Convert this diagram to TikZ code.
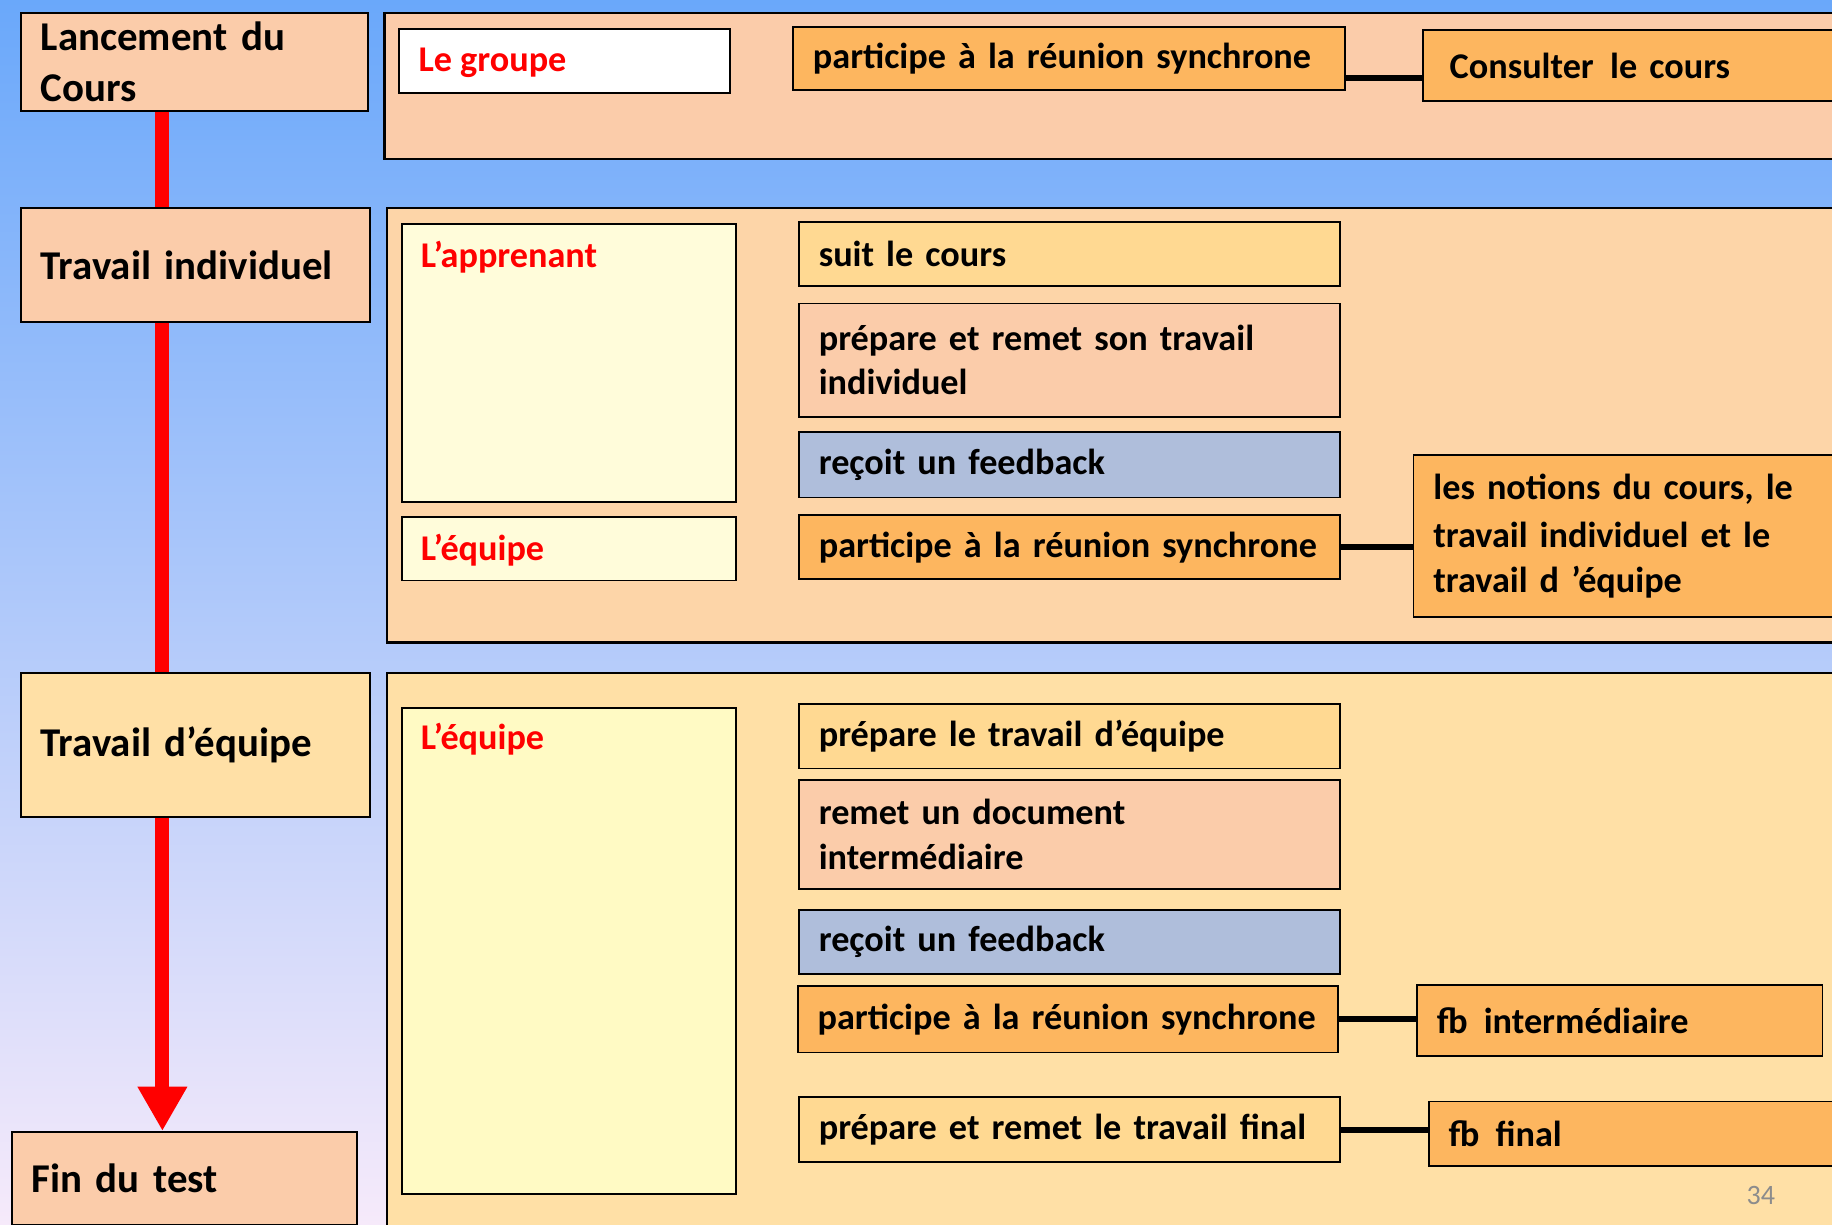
\documentclass[tikz,border=0pt]{standalone}
\usepackage{fontspec}
\setmainfont{Carlito}
\usetikzlibrary{arrows.meta,calc}

\definecolor{bgtop}{RGB}{106,168,250}
\definecolor{bgbot}{RGB}{246,234,250}
\definecolor{peach}{RGB}{251,204,170}
\definecolor{peachB}{RGB}{253,213,168}
\definecolor{cream}{RGB}{255,224,166}
\definecolor{amber}{RGB}{253,182,95}
\definecolor{sand}{RGB}{255,217,146}
\definecolor{slate}{RGB}{175,190,219}
\definecolor{paleA}{RGB}{255,252,218}
\definecolor{paleB}{RGB}{255,250,196}
\definecolor{redtone}{RGB}{255,0,0}

\tikzset{
  panel/.style={draw=black, line width=2pt, anchor=north west, inner sep=0pt},
  stagebox/.style={draw=black, line width=1.8pt, anchor=north west, inner sep=0pt,
    align=left, font=\bfseries\fontsize{35}{44}\selectfont},
  actbox/.style={draw=black, line width=1.6pt, anchor=north west, inner sep=0pt,
    align=left, font=\bfseries\fontsize{31}{38}\selectfont},
  actor/.style={anchor=north west, inner sep=0pt, text=redtone,
    font=\bfseries\fontsize{31}{38}\selectfont},
  conn/.style={line width=5pt, black},
  spine/.style={line width=12pt, redtone,
    -{Triangle[width=40pt,length=38pt]}},
}

% box of given width/height with text inset from the left edge
\newcommand{\bx}[8]{% style, name, x, y, w, h, fill, text
  \pgfmathsetmacro{\tw}{#5-34}%
  \node[#1, fill=#7, minimum width=#5pt, minimum height=#6pt,
        text width=\tw pt] (#2) at (#3,#4) {#8};}
\newcommand{\gap}{\hspace{14pt}}

\begin{document}
\begin{tikzpicture}[x=1pt,y=-1pt]
\useasboundingbox (0,0) rectangle (1568,1048);
\clip (0,0) rectangle (1568,1048);
\shade[top color=bgtop, bottom color=bgbot] (0,0) rectangle (1568,1048);

% right-hand panels
\node[panel, fill=peach,  minimum width=1260pt, minimum height=125pt] (pA) at (328,10) {};
\node[panel, fill=peachB, minimum width=1260pt, minimum height=372pt] (pB) at (330,177) {};
\node[panel, fill=cream,  minimum width=1260pt, minimum height=500pt] (pC) at (330,575) {};

% timeline spine
\coordinate (sp) at (139,0);
\node[stagebox, fill=peach, minimum width=297pt, minimum height=84pt, text width=263pt] (lanc) at (17,10) {Lancement du\\Cours};
\node[stagebox, fill=peach, minimum width=296pt, minimum height=80pt, text width=262pt] (fin) at (9,968) {Fin du test};
\draw[spine] (sp |- lanc.south) -- (sp |- fin.north);
\node[stagebox, fill=peach, minimum width=299pt, minimum height=98pt, text width=265pt] (indiv) at (17,177) {Travail individuel};
\node[stagebox, fill=cream, minimum width=299pt, minimum height=123pt, text width=265pt] (equipe) at (17,575) {Travail d’équipe};

% panel A : launch
\bx{actbox}{grp}{341}{24}{283}{55}{white}{}
\node[actor] at ([xshift=17pt,yshift=-17pt]grp.north west) {Le groupe};
\bx{actbox}{aSync}{678}{22}{472}{54}{amber}{participe à la réunion synchrone}
\bx{actbox}{aCours}{1217}{25}{370}{61}{amber}{\hspace{6pt}Consulter\gap le cours}
\draw[conn] ([yshift=-17pt]aSync.east) -- ([yshift=-17pt]aSync.east -| aCours.west);

% panel B : individual work
\bx{actbox}{appr}{343}{191}{286}{238}{paleA}{}
\node[actor] at ([xshift=17pt,yshift=-15pt]appr.north west) {L’apprenant};
\bx{actbox}{eqB}{343}{442}{286}{54}{paleA}{}
\node[actor] at ([xshift=17pt,yshift=-15pt]eqB.north west) {L’équipe};
\bx{actbox}{bSuit}{683}{189}{463}{55}{sand}{suit le cours}
\bx{actbox}{bPrep}{683}{259}{463}{97}{peach}{prépare et remet son travail\\individuel}
\bx{actbox}{bFb}{683}{369}{463}{56}{slate}{reçoit un feedback}
\bx{actbox}{bSync}{683}{440}{463}{55}{amber}{participe à la réunion synchrone}
\bx{actbox}{bNot}{1209}{389}{380}{138}{amber}{\fontsize{31}{41}\selectfont les notions du cours, le\\travail individuel et le\\travail d ’équipe}
\draw[conn] (bSync.east) -- (bSync.east -| bNot.west);

% panel C : team work
\bx{actbox}{eqC}{343}{605}{286}{416}{paleB}{}
\node[actor] at ([xshift=17pt,yshift=-14pt]eqC.north west) {L’équipe};
\bx{actbox}{cPrep}{683}{602}{463}{55}{sand}{prépare le travail d’équipe}
\bx{actbox}{cDoc}{683}{667}{463}{93}{peach}{remet un document\\intermédiaire}
\bx{actbox}{cFb}{683}{778}{463}{55}{slate}{reçoit un feedback}
\bx{actbox}{cSync}{682}{843}{462}{57}{amber}{participe à la réunion synchrone}
\bx{actbox}{cFbi}{1212}{842}{347}{61}{amber}{fb\gap intermédiaire}
\bx{actbox}{cFin}{683}{938}{463}{56}{sand}{prépare et remet le travail final}
\bx{actbox}{cFbf}{1222}{942}{370}{55}{amber}{fb\gap final}
\draw[conn] (cSync.east) -- (cSync.east -| cFbi.west);
\draw[conn] (cFin.east) -- (cFin.east -| cFbf.west);

% slide number
\node[text=black!45, font=\fontsize{24}{28}\selectfont] (num) at (1507,1023) {34};
\end{tikzpicture}
\end{document}
